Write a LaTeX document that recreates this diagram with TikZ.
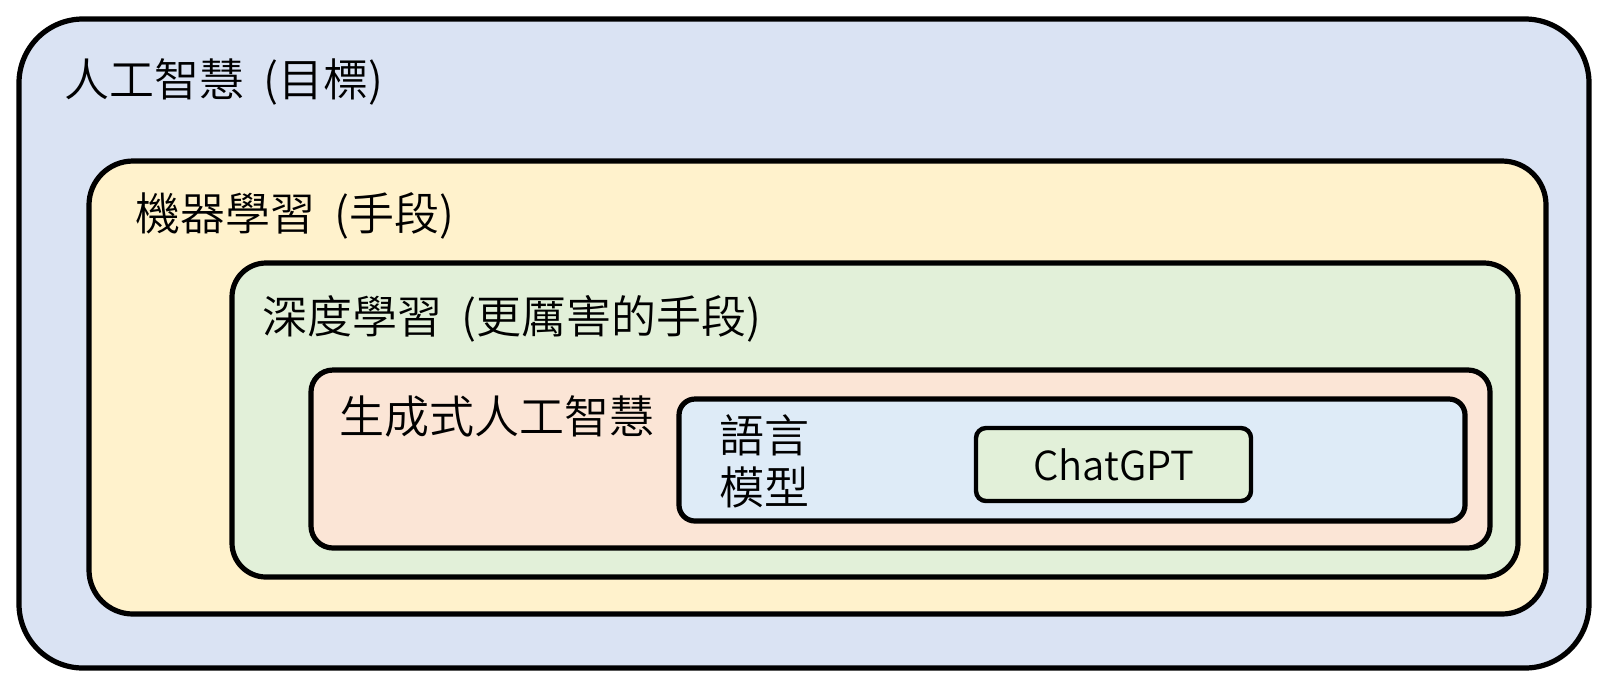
\documentclass[tikz,border=0pt]{standalone}
\usepackage{fontspec}
\setmainfont{Noto Sans CJK TC}[UprightFont=* DemiLight]
\usetikzlibrary{positioning}
\definecolor{cOuter}{HTML}{DAE3F3}
\definecolor{cYellow}{HTML}{FFF2CC}
\definecolor{cGreen}{HTML}{E2F0D9}
\definecolor{cSalmon}{HTML}{FBE5D6}
\definecolor{cBlue}{HTML}{DEEBF7}
\newcommand{\gap}{\hspace{0.42em}}
\tikzset{
  layer/.style={draw=black, line width=2.6pt, inner sep=0pt},
  lbl/.style={anchor=west, inner sep=0pt, font=\fontsize{22.5pt}{26pt}\selectfont},
}
\begin{document}
\begin{tikzpicture}[x=0.5pt,y=-0.5pt]
\useasboundingbox (0,0) rectangle (1599,682);
\node[layer, fill=cOuter, rounded corners=32pt, minimum width=785pt, minimum height=324.5pt] (ai) at (804,343.5) {};
\node[layer, fill=cYellow, rounded corners=22pt, minimum width=728.5pt, minimum height=226.5pt] (ml) at (817.5,387.5) {};
\node[layer, fill=cGreen, rounded corners=17pt, minimum width=643pt, minimum height=157pt] (dl) at (875,420) {};
\node[layer, fill=cSalmon, rounded corners=11pt, minimum width=589.5pt, minimum height=89pt] (gen) at (900.5,459) {};
\node[layer, fill=cBlue, rounded corners=8pt, minimum width=393pt, minimum height=61pt] (lm) at (1072,460) {};
\node[layer, line width=2.2pt, fill=cGreen, rounded corners=5pt, minimum width=137.5pt, minimum height=36.5pt, font=\fontsize{20pt}{24pt}\selectfont] (gpt) at (1113.5,464.5) {ChatGPT};
\node[lbl] (tai) at (64,82) {人工智慧\gap(目標)};
\node[lbl] (tml) at (135,216) {機器學習\gap(手段)};
\node[lbl] (tdl) at (262,319) {深度學習\gap(更厲害的手段)};
\node[lbl] (tgen) at (339,416) {生成式人工智慧};
\node[lbl, align=left] (tlm) at (719,461) {語言\\模型};
\end{tikzpicture}
\end{document}
